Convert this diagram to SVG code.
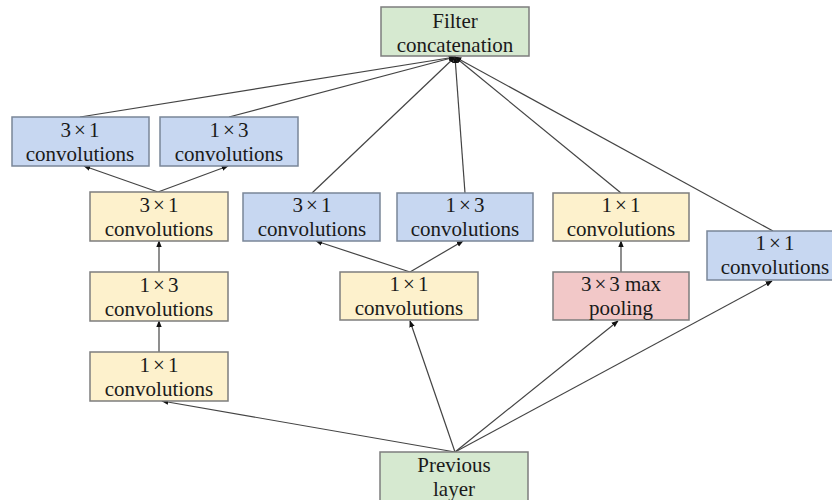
<svg xmlns="http://www.w3.org/2000/svg" width="832" height="500" viewBox="0 0 832 500">
<defs>
<marker id="ah" viewBox="0 0 10 10" refX="9" refY="5" markerWidth="7" markerHeight="7" orient="auto" markerUnits="userSpaceOnUse">
<path d="M0,1 L10,5 L0,9 z" fill="#111"/>
</marker>
<style>
rect{stroke:#7d7d7d;stroke-width:1.5}
.b{fill:#c7d7f1;stroke:#7a8698}
.y{fill:#fdf1cc}
.p{fill:#f2c8c8}
.g{fill:#d6e9d0}
text{font-size:21px;fill:#1a1a1a;text-anchor:middle}
#edges line{stroke:#444;stroke-width:1.2;marker-end:url(#ah)}
</style>
</defs>
<rect width="832" height="500" fill="#fff" style="stroke:none"/>
<g id="edges">
<line x1="80" y1="117" x2="455" y2="57"/>
<line x1="229" y1="117" x2="455" y2="57"/>
<line x1="312" y1="193" x2="455" y2="57"/>
<line x1="465" y1="193" x2="455" y2="57"/>
<line x1="621" y1="193" x2="455" y2="57"/>
<line x1="773" y1="231" x2="455" y2="57"/>
<line x1="158" y1="192" x2="84" y2="166"/>
<line x1="158" y1="192" x2="228" y2="166"/>
<line x1="159" y1="272" x2="159" y2="241"/>
<line x1="159" y1="352" x2="159" y2="321"/>
<line x1="455" y1="452" x2="162" y2="401"/>
<line x1="455" y1="452" x2="410" y2="321"/>
<line x1="455" y1="452" x2="618" y2="321"/>
<line x1="455" y1="452" x2="772" y2="281"/>
<line x1="410" y1="272" x2="316" y2="241"/>
<line x1="410" y1="272" x2="463" y2="241"/>
<line x1="621" y1="272" x2="621" y2="241"/>
</g>
<g font-family="Liberation Serif, Times New Roman, DejaVu Serif, serif">
<g id="filter"><rect class="g" x="381" y="7" width="148" height="49"/><text x="455" y="28">Filter</text><text x="455" y="52">concatenation</text></g>
<g id="prev"><rect class="g" x="380" y="452" width="148" height="52"/><text x="454" y="472">Previous</text><text x="454" y="496">layer</text></g>
<g id="lb31"><rect class="b" x="12" y="117" width="137" height="49"/><text x="80" y="137">3<tspan dx="3">×</tspan><tspan dx="3">1</tspan></text><text x="80" y="161">convolutions</text></g>
<g id="lb13"><rect class="b" x="160" y="117" width="138" height="49"/><text x="229" y="137">1<tspan dx="3">×</tspan><tspan dx="3">3</tspan></text><text x="229" y="161">convolutions</text></g>
<g id="ly31"><rect class="y" x="90" y="192" width="138" height="49"/><text x="159" y="212">3<tspan dx="3">×</tspan><tspan dx="3">1</tspan></text><text x="159" y="236">convolutions</text></g>
<g id="ly13"><rect class="y" x="90" y="272" width="138" height="49"/><text x="159" y="292">1<tspan dx="3">×</tspan><tspan dx="3">3</tspan></text><text x="159" y="316">convolutions</text></g>
<g id="ly11"><rect class="y" x="90" y="352" width="138" height="49"/><text x="159" y="372">1<tspan dx="3">×</tspan><tspan dx="3">1</tspan></text><text x="159" y="396">convolutions</text></g>
<g id="mb31"><rect class="b" x="243" y="193" width="137" height="48"/><text x="312" y="212">3<tspan dx="3">×</tspan><tspan dx="3">1</tspan></text><text x="312" y="236">convolutions</text></g>
<g id="mb13"><rect class="b" x="397" y="193" width="136" height="48"/><text x="465" y="212">1<tspan dx="3">×</tspan><tspan dx="3">3</tspan></text><text x="465" y="236">convolutions</text></g>
<g id="my11"><rect class="y" x="340" y="272" width="138" height="48"/><text x="409" y="291">1<tspan dx="3">×</tspan><tspan dx="3">1</tspan></text><text x="409" y="315">convolutions</text></g>
<g id="ry11"><rect class="y" x="553" y="193" width="136" height="48"/><text x="621" y="212">1<tspan dx="3">×</tspan><tspan dx="3">1</tspan></text><text x="621" y="236">convolutions</text></g>
<g id="pool"><rect class="p" x="553" y="272" width="136" height="48"/><text x="621" y="291">3<tspan dx="3">×</tspan><tspan dx="3">3 max</tspan></text><text x="621" y="315">pooling</text></g>
<g id="rb11"><rect class="b" x="707" y="231" width="140" height="49"/><text x="775" y="250">1<tspan dx="3">×</tspan><tspan dx="3">1</tspan></text><text x="775" y="274">convolutions</text></g>
</g>
</svg>
